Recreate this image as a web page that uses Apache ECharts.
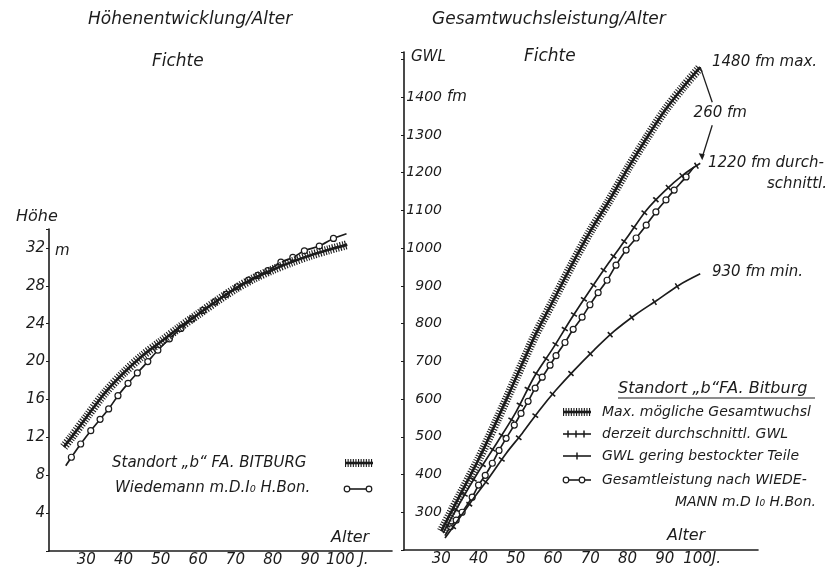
<!DOCTYPE html>
<html>
<head>
<meta charset="utf-8">
<title>Fichte</title>
<script src="https://cdn.jsdelivr.net/npm/echarts@6/dist/echarts.min.js"></script>
<style>
  body { margin: 0; background: #fff; }
  #main { width: 840px; height: 569px; }
</style>
</head>
<body>
<div id="main"></div>
<script>
// Höhenentwicklung / Alter (left panel)
var standortAge    = [24, 26, 30, 35, 40, 45, 50, 55, 60, 65, 70, 75, 80, 85, 90, 95, 100];
var standortHoehe  = [11.0, 12.0, 14.1, 16.7, 18.8, 20.6, 22.1, 23.6, 25.0, 26.4, 27.7, 28.8, 29.7, 30.5, 31.2, 31.8, 32.35];
var wiedHAge   = [24.5, 26, 28.5, 31.2, 33.7, 36, 38.5, 41.2, 43.7, 46.5, 49.2, 52.3, 55.4, 58.4, 61.3, 64.5, 67.5, 70.5, 73.5, 76, 78.7, 82.2, 85.4, 88.5, 92.5, 96.3, 99.8];
var wiedHoehe  = [9.0, 9.9, 11.3, 12.7, 13.9, 15.0, 16.4, 17.7, 18.8, 20.0, 21.2, 22.4, 23.5, 24.5, 25.4, 26.3, 27.1, 27.9, 28.6, 29.1, 29.6, 30.5, 31.0, 31.7, 32.2, 33.0, 33.5];

// Gesamtwuchsleistung / Alter (right panel)
var maxAge   = [30, 35, 40, 45, 50, 55, 60, 65, 70, 75, 80, 85, 90, 95, 99.5];
var maxGwl   = [250, 345, 440, 545, 655, 765, 860, 955, 1045, 1125, 1210, 1290, 1365, 1428, 1480];
var durchAge = [30.5, 35, 40, 45, 50, 55, 60, 65, 70, 75, 80, 85, 90, 95, 99.5];
var durchGwl = [245, 325, 408, 485, 565, 660, 735, 815, 890, 962, 1030, 1100, 1152, 1195, 1225];
var geringAge = [31, 36, 38.3, 42.9, 47.4, 51.7, 56.3, 60.8, 65.7, 71, 76.4, 82.3, 87.9, 93.8, 99.5];
var geringGwl = [232, 300, 332, 393, 456, 509, 570, 624, 677, 730, 780, 825, 862, 902, 932];
var wiedGAge = [31, 32.5, 34, 35.6, 38.3, 40, 41.8, 43.7, 45.5, 47.4, 49.6, 51.4, 53.3, 55.2, 57.1, 59.2, 60.8, 63.2, 65.4, 67.8, 69.9, 72.1, 74.5, 76.9, 79.6, 82.3, 85, 87.6, 90.3, 92.5, 95.7, 97.8];
var wiedGwl  = [238, 262, 279, 300, 340, 372, 398, 430, 464, 496, 531, 562, 594, 629, 658, 690, 715, 750, 785, 817, 850, 882, 915, 955, 995, 1027, 1061, 1096, 1128, 1154, 1189, 1215];

var ink = '#1c1c1c';
var fam = '"DejaVu Sans"';
var smooth = 0.3;

function pairs(xs, ys) {
    return xs.map(function (x, i) { return [x, ys[i]]; });
}

// circles on every point except first and last
function circled(xs, ys) {
    return xs.map(function (x, i) {
        var item = { value: [x, ys[i]] };
        if (i === 0 || i === xs.length - 1) item.symbol = 'none';
        return item;
    });
}

// heavy line with dense cross hatching
function hatched(name, data, idx) {
    return [{
        name: name, type: 'line', xAxisIndex: idx, yAxisIndex: idx, data: data,
        smooth: smooth, showSymbol: false, z: 5,
        lineStyle: { color: ink, width: 2.6 }
    }, {
        name: name, type: 'line', xAxisIndex: idx, yAxisIndex: idx, data: data,
        smooth: smooth, showSymbol: false, z: 5,
        lineStyle: { color: ink, width: 9, type: [1.1, 1.5], cap: 'butt' }
    }];
}

// thin line with crossing ticks every `gap` px
function ticked(name, data, idx, gap) {
    return [{
        name: name, type: 'line', xAxisIndex: idx, yAxisIndex: idx, data: data,
        smooth: smooth, showSymbol: false, z: 3,
        lineStyle: { color: ink, width: 1.7 }
    }, {
        name: name, type: 'line', xAxisIndex: idx, yAxisIndex: idx, data: data,
        smooth: smooth, showSymbol: false, z: 3,
        lineStyle: { color: ink, width: 7, type: [1.6, gap], dashOffset: -gap / 2, cap: 'butt' }
    }];
}

function wiedemann(name, data, idx) {
    return {
        name: name, type: 'line', xAxisIndex: idx, yAxisIndex: idx, data: data,
        smooth: smooth, showAllSymbol: true, z: 2,
        symbol: 'circle', symbolSize: 6,
        itemStyle: { color: '#fff', borderColor: ink, borderWidth: 1.2 },
        lineStyle: { color: ink, width: 1.7 }
    };
}

var lbl = { color: ink, fontFamily: fam, fontStyle: 'italic', fontSize: 15 };

var option = {
    backgroundColor: '#fff',
    animation: false,
    grid: [
        { left: 49, top: 229, width: 343, height: 322 },
        { left: 404, top: 52, width: 354, height: 498 }
    ],
    xAxis: [{
        gridIndex: 0, type: 'value', min: 20, max: 112, interval: 10,
        axisLine: { lineStyle: { color: ink, width: 1.6 } },
        axisTick: { show: false },
        splitLine: { show: false },
        axisLabel: Object.assign({ margin: 2, formatter: function (v) {
            if (v < 30 || v > 100) return '';
            return v === 100 ? '100 J.' : v;
        } }, lbl)
    }, {
        gridIndex: 1, type: 'value', min: 20, max: 115, interval: 10,
        axisLine: { lineStyle: { color: ink, width: 1.6 } },
        axisTick: { show: false },
        splitLine: { show: false },
        axisLabel: Object.assign({ margin: 2, formatter: function (v) {
            if (v < 30 || v > 100) return '';
            return v === 100 ? '100J.' : v;
        } }, lbl)
    }],
    yAxis: [{
        gridIndex: 0, type: 'value', min: 0, max: 34, interval: 4,
        axisLine: { show: true, lineStyle: { color: ink, width: 1.6 } },
        axisTick: { show: true, length: 3, lineStyle: { color: ink } },
        splitLine: { show: false },
        axisLabel: Object.assign({ margin: 4, formatter: function (v) {
            return (v < 4 || v > 32) ? '' : v;
        } }, lbl)
    }, {
        gridIndex: 1, type: 'value', min: 200, max: 1520, interval: 100,
        axisLine: { show: true, lineStyle: { color: ink, width: 1.6 } },
        axisTick: { show: true, length: 3, lineStyle: { color: ink } },
        splitLine: { show: false },
        axisLabel: Object.assign({}, lbl, { fontSize: 14, inside: true, margin: 38, align: 'right', formatter: function (v) {
            return (v < 300 || v > 1400) ? '' : v;
        } })
    }],
    series: [].concat(
        wiedemann('Wiedemann', circled(wiedHAge, wiedHoehe), 0),
        hatched('Standort', pairs(standortAge, standortHoehe), 0),
        wiedemann('Wiedemann GWL', circled(wiedGAge, wiedGwl), 1),
        ticked('gering', pairs(geringAge, geringGwl), 1, 26),
        ticked('durchschnittl', pairs(durchAge, durchGwl), 1, 16),
        hatched('Max', pairs(maxAge, maxGwl), 1)
    )
};

var chart = echarts.init(document.getElementById('main'), null, { renderer: 'canvas' });
chart.setOption(option);

function txt(s, x, y, size, align, extra) {
    var st = {
        text: s, x: x, y: y, fill: ink,
        font: 'italic ' + size + 'px ' + fam,
        textAlign: align || 'left', textVerticalAlign: 'middle',
        align: align || 'left', verticalAlign: 'middle'
    };
    return Object.assign({ type: 'text', z: 20, style: st }, extra || {});
}
function seg(x1, y1, x2, y2, style) {
    return { type: 'line', z: 20, shape: { x1: x1, y1: y1, x2: x2, y2: y2 },
             style: Object.assign({ stroke: ink, lineWidth: 1.6 }, style || {}) };
}
function hatchSample(x1, x2, y) {
    return [seg(x1, y, x2, y, { lineWidth: 2.6 }),
            seg(x1, y, x2, y, { lineWidth: 8, lineDash: [1.1, 1.5] })];
}
function circleAt(x, y) {
    return { type: 'circle', z: 21, shape: { cx: x, cy: y, r: 2.8 },
             style: { fill: '#fff', stroke: ink, lineWidth: 1.2 } };
}
function tickAt(x, y) {
    return seg(x, y - 3.5, x, y + 3.5, { lineWidth: 1.5 });
}

var pMax = chart.convertToPixel({ gridIndex: 1 }, [maxAge[maxAge.length - 1], maxGwl[maxGwl.length - 1]]);
var pDur = chart.convertToPixel({ gridIndex: 1 }, [durchAge[durchAge.length - 1], durchGwl[durchGwl.length - 1]]);
var p1400 = chart.convertToPixel({ gridIndex: 1 }, [20, 1400]);
var mid = [pMax[0] + 20, (pMax[1] + pDur[1]) / 2 - 2];

var g = [
    txt('Höhenentwicklung/Alter', 88, 20, 17),
    txt('Fichte', 152, 62, 17),
    txt('Gesamtwuchsleistung/Alter', 432, 20, 17),
    txt('Fichte', 524, 57, 17),
    txt('GWL', 411, 57, 15),
    txt('fm', 447, p1400[1], 15),
    txt('Höhe', 16, 217, 16),
    txt('m', 55, 251, 15),
    txt('Alter', 331, 538, 16),
    txt('Alter', 667, 536, 16),

    // left legend
    txt('Standort \u201Eb\u201C FA. BITBURG', 112, 463, 15),
    txt('Wiedemann m.D.I\u2080 H.Bon.', 115, 488, 15),
    seg(344, 489, 371, 489, { lineWidth: 1.6 }),
    circleAt(347, 489), circleAt(369, 489),

    // right legend
    txt('Standort \u201Eb\u201CFA. Bitburg', 618, 389, 16),
    seg(618, 398, 815, 398, { lineWidth: 1.2 }),
    txt('Max. mögliche Gesamtwuchsl', 602, 412, 14),
    txt('derzeit durchschnittl. GWL', 602, 434, 14),
    txt('GWL gering bestockter Teile', 602, 456, 14),
    txt('Gesamtleistung nach WIEDE-', 602, 480, 14),
    txt('MANN m.D I\u2080 H.Bon.', 816, 502, 14, 'right'),
    seg(563, 434, 591, 434),
    tickAt(568, 434), tickAt(576, 434), tickAt(584, 434),
    seg(563, 456, 591, 456),
    tickAt(577, 456),
    seg(563, 480, 591, 480),
    circleAt(566, 480), circleAt(582, 480),

    // annotations
    txt('1480 fm max.', 712, 62, 15),
    txt('260 fm', mid[0], mid[1], 15, 'center'),
    txt('1220 fm durch-', 708, 163, 15),
    txt('schnittl.', 827, 184, 15, 'right'),
    txt('930 fm min.', 712, 272, 15),
    seg(pMax[0], pMax[1], mid[0] - 8, mid[1] - 11, { lineWidth: 1.3 }),
    seg(mid[0] - 8, mid[1] + 12, pDur[0] + 2, pDur[1] - 6, { lineWidth: 1.3 }),
    { type: 'polygon', z: 20, shape: { points: [[pDur[0] + 2, pDur[1] - 3], [pDur[0] - 1.5, pDur[1] - 10], [pDur[0] + 4.5, pDur[1] - 9]] },
      style: { fill: ink } }
].concat(hatchSample(345, 373, 463), hatchSample(563, 591, 412));

chart.setOption({ graphic: g });
</script>
</body>
</html>
